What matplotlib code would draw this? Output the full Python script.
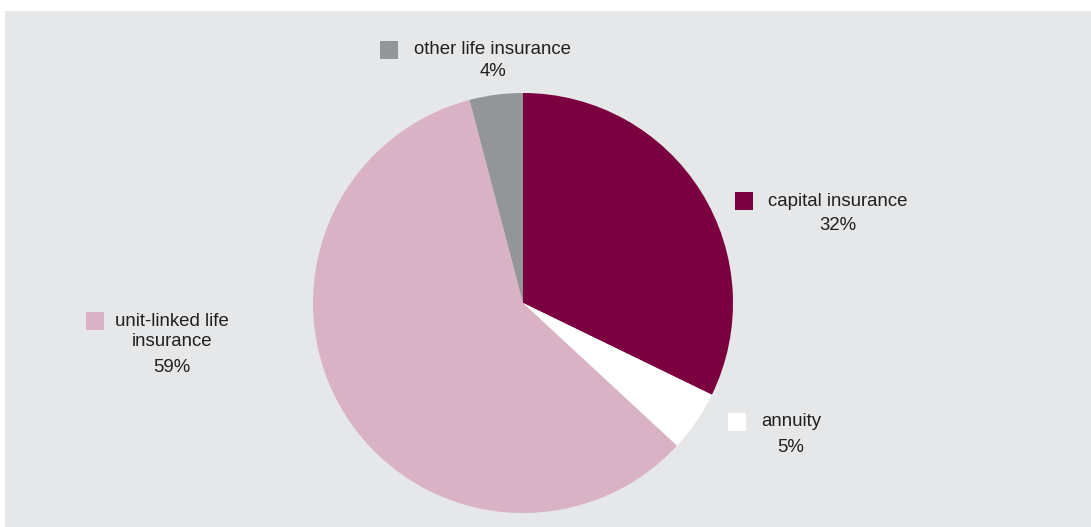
import matplotlib
matplotlib.use("Agg")
from matplotlib import pyplot as plt
from matplotlib.patches import Rectangle

# data
categories = ["capital insurance", "annuity", "unit-linked life\ninsurance", "other life insurance"]
shares = [32.2, 4.7, 59.0, 4.1]
colors = ["#7b003f", "#ffffff", "#d9b3c5", "#939598"]

# label placement in pixel units (x of text center, y from top), marker x
label_pos = [(838, 201, 744), (791, 422, 737), (172, 321, 95), (493, 50, 389)]

W, H = 1091, 527
plt.rcParams["font.family"] = ["Liberation Sans", "DejaVu Sans"]

fig = plt.figure(figsize=(W / 100, H / 100), dpi=100)
fig.patch.set_facecolor("white")
ax = fig.add_axes([0, 0, 1, 1])
ax.set_facecolor("white")

# grey panel
ax.add_patch(Rectangle((5, 0), W - 5, H - 11, facecolor="#e6e7e8", edgecolor="none", zorder=0))

ax.pie(shares, colors=colors, startangle=90, counterclock=False,
       center=(523, H - 303), radius=210, frame=True,
       wedgeprops=dict(linewidth=0, zorder=2))

text_color = "#231f20"
fs = 13.4
for name, val, col, (tx, ty, mx) in zip(categories, shares, colors, label_pos):
    lines = name.split("\n")
    ax.scatter([mx], [H - ty], marker="s", s=150, color=col, edgecolors="none", zorder=3)
    for i, line in enumerate(lines):
        ax.text(tx, H - ty - 21 * i, line, ha="center", va="center",
                fontsize=fs, color=text_color, zorder=3)
    gap = 21 if name.startswith("other") else 25
    ax.text(tx, H - ty - 21 * (len(lines) - 1) - gap, f"{round(val)}%",
            ha="center", va="center", fontsize=fs, color=text_color, zorder=3)

ax.set_xlim(0, W)
ax.set_ylim(0, H)
ax.set_aspect("auto")
ax.axis("off")

fig.savefig("out.png", dpi=100)
